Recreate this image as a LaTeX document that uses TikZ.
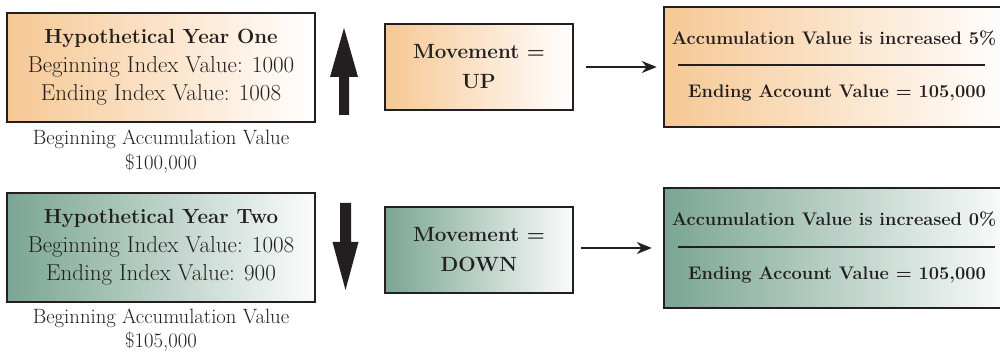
\documentclass[tikz,border=0pt]{standalone}
\usetikzlibrary{arrows.meta}
\definecolor{orng}{HTML}{F6C894}
\definecolor{grn}{HTML}{7AA594}
\definecolor{ink}{HTML}{231F20}
\begin{document}
\begin{tikzpicture}[x=1pt,y=-1pt,
  box/.style={draw=ink,line width=2.5pt,inner sep=0pt,text=ink},
  obox/.style={box,left color=orng,right color=white},
  gbox/.style={box,left color=grn,right color=white!97!grn},
  yearbox/.style={minimum width=308pt,minimum height=109pt,align=center,
     font=\fontsize{23}{28.5}\selectfont},
  movebox/.style={minimum width=188pt,minimum height=86pt,align=center,
     font=\fontsize{20.6}{30}\selectfont\bfseries},
  resbox/.style={minimum width=346pt,minimum height=120pt},
  restext/.style={text=ink,inner sep=0pt,font=\fontsize{18.2}{20}\selectfont\bfseries},
  caption/.style={text=ink,inner sep=0pt,align=center,font=\fontsize{20.7}{24.5}\selectfont},
  conn/.style={draw=ink,line width=2pt,-{Stealth[length=15pt,width=12pt]}},
  rulel/.style={draw=ink,line width=2.5pt}
]
\clip (0,0) rectangle (1000,352);
% left boxes
\node[obox,yearbox] (b1) at (161,67.5) {{\fontsize{20.5}{28.5}\selectfont\bfseries Hypothetical Year One}\\Beginning Index Value: 1000\\Ending Index Value: 1008};
\node[caption] (c1) at (161,151.5) {Beginning Accumulation Value\\\$100,000};
\node[gbox,yearbox] (b2) at (161,247.5) {{\fontsize{20.5}{28.5}\selectfont\bfseries Hypothetical Year Two}\\Beginning Index Value: 1008\\Ending Index Value: 900};
\node[caption] (c2) at (161,330) {Beginning Accumulation Value\\\$105,000};
% fat arrows
\fill[ink] (344,28) -- (358,77) -- (349,77) -- (349,115) -- (339,115) -- (339,77) -- (330,77) -- cycle;
\fill[ink] (345.5,290) -- (358.5,242) -- (351,242) -- (351,203) -- (340,203) -- (340,242) -- (332.5,242) -- cycle;
% movement boxes
\node[obox,movebox] (m1) at (479,67) {Movement =\\UP};
\node[gbox,movebox] (m2) at (479,250) {Movement =\\DOWN};
% result boxes
\node[obox,resbox] (r1) at (837,67) {};
\node[restext] (t1a) at (834,38) {Accumulation Value is increased 5\%};
\node[restext] (t1b) at (837,93) {Ending Account Value = 105,000};
\coordinate (l1a) at (678,65);
\coordinate (l1b) at (985,65);
\draw[rulel] (l1a) -- (l1b);
\node[gbox,resbox] (r2) at (837,248) {};
\node[restext] (t2a) at (834,219) {Accumulation Value is increased 0\%};
\node[restext] (t2b) at (837,275) {Ending Account Value = 105,000};
\coordinate (l2a) at (678,247);
\coordinate (l2b) at (995,247);
\draw[rulel] (l2a) -- (l2b);
% connectors
\draw[conn] ([xshift=12pt]m1.east) -- ([xshift=-6pt]r1.west);
\draw[conn] ([xshift=7pt]m2.east |- r2.west) -- ([xshift=-11pt]r2.west);
\end{tikzpicture}
\end{document}
